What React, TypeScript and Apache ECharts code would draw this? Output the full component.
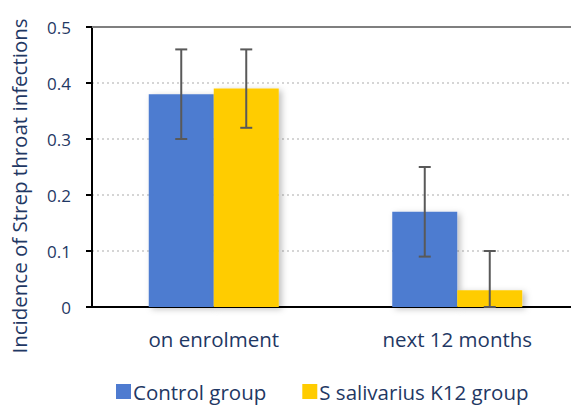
import React, { useEffect, useRef } from "react";
import * as echarts from "echarts";

const categories = ["on enrolment", "next 12 months"];
const controlValues = [0.38, 0.17];
const controlLow = [0.3, 0.09];
const controlHigh = [0.46, 0.25];
const k12Values = [0.39, 0.03];
const k12Low = [0.32, 0];
const k12High = [0.46, 0.1];
const yTicks = [0, 0.1, 0.2, 0.3, 0.4, 0.5];
const yAxisTitle = "Incidence of Strep throat infections";

const BLUE = "#4E7BD0";
const YELLOW = "#FFCC00";
const TEXT = "#1F3864";
const FONT = "'Open Sans', sans-serif";
const BAR_W = 65;

function errorSeries(name: string, low: number[], high: number[], offset: number) {
  return {
    type: "custom",
    name: name + " err",
    z: 5,
    data: low.map((l, i) => [i, l, high[i]]),
    renderItem: (params: any, api: any) => {
      const i = api.value(0);
      const lo = api.coord([i, api.value(1)]);
      const hi = api.coord([i, api.value(2)]);
      const x = lo[0] + offset;
      const cap = 6;
      const style = { stroke: "#595959", lineWidth: 2 };
      return {
        type: "group",
        children: [
          { type: "line", shape: { x1: x, y1: lo[1], x2: x, y2: hi[1] }, style },
          { type: "line", shape: { x1: x - cap, y1: hi[1], x2: x + cap, y2: hi[1] }, style },
          { type: "line", shape: { x1: x - cap, y1: lo[1], x2: x + cap, y2: lo[1] }, style },
        ],
      };
    },
  };
}

export default function App() {
  const ref = useRef<HTMLDivElement>(null);
  useEffect(() => {
    const chart = echarts.init(ref.current!, null, { renderer: "svg" });
    const barShadow = {
      shadowColor: "rgba(0,0,0,0.25)",
      shadowBlur: 6,
      shadowOffsetX: 3,
      shadowOffsetY: 2,
    };
    chart.setOption({
      animation: false,
      backgroundColor: "#ffffff",
      textStyle: { fontFamily: FONT },
      // plot area runs slightly past the right edge of the visible frame
      grid: { left: 92, right: 11, top: 27, height: 280, containLabel: false },
      graphic: [
        {
          type: "text",
          x: 19,
          y: 186,
          rotation: Math.PI / 2,
          style: {
            text: yAxisTitle,
            fill: TEXT,
            font: `20.5px ${FONT}`,
            align: "center",
            verticalAlign: "middle",
          },
        },
      ],
      legend: {
        top: 381,
        left: 116,
        icon: "rect",
        itemWidth: 15,
        itemHeight: 15,
        itemGap: 36,
        padding: 0,
        data: ["Control group", "S salivarius K12 group"],
        textStyle: { color: TEXT, fontSize: 20.5, fontFamily: FONT, padding: [0, 0, 0, -3] },
      },
      xAxis: [
        {
          type: "category",
          data: categories,
          axisLine: { lineStyle: { color: "#000", width: 2 } },
          axisTick: { show: false },
          axisLabel: { color: TEXT, fontSize: 20.5, margin: 21, fontFamily: FONT },
        },
        {
          type: "category",
          position: "top",
          data: categories,
          axisLine: { lineStyle: { color: "#7f7f7f", width: 2 } },
          axisTick: { show: false },
          axisLabel: { show: false },
        },
      ],
      yAxis: {
        type: "value",
        min: 0,
        max: 0.5,
        interval: 0.1,
        axisLine: { show: true, lineStyle: { color: "#000", width: 2 } },
        axisTick: { show: true, length: 6, lineStyle: { color: "#000", width: 2 } },
        axisLabel: {
          color: TEXT,
          fontSize: 17,
          margin: 21,
          fontFamily: FONT,
          formatter: (v: number) => {
            const t = yTicks.find((y) => Math.abs(y - v) < 1e-9);
            return t === undefined ? "" : String(t);
          },
        },
        splitLine: { lineStyle: { color: "#c8c8c8", type: [2, 3], width: 1.5 } },
      },
      series: [
        {
          type: "bar",
          name: "Control group",
          data: controlValues,
          barWidth: BAR_W,
          barGap: "0%",
          itemStyle: { color: BLUE, ...barShadow },
        },
        {
          type: "bar",
          name: "S salivarius K12 group",
          data: k12Values,
          barWidth: BAR_W,
          barGap: "0%",
          itemStyle: { color: YELLOW, ...barShadow },
        },
        errorSeries("Control group", controlLow, controlHigh, -BAR_W / 2),
        errorSeries("S salivarius K12 group", k12Low, k12High, BAR_W / 2),
      ],
    });
    return () => chart.dispose();
  }, []);
  return (
    <div style={{ position: "fixed", left: 0, top: 0, width: 571, height: 407, overflow: "hidden" }}>
      <div ref={ref} style={{ width: 590, height: 407 }} />
    </div>
  );
}
